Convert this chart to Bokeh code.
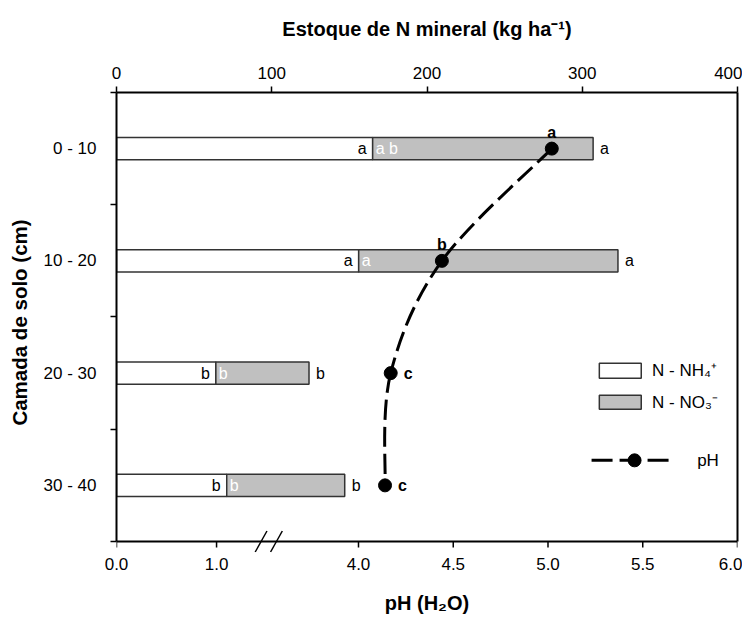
from bokeh.plotting import figure
from bokeh.models import (Range1d, LinearAxis, FixedTicker, CustomJSTickFormatter,
                          ColumnDataSource, Span)
from bokeh.embed import file_html
from bokeh.resources import INLINE
from bokeh.core.properties import value

# ---------------- data ----------------
layers = ["0 - 10", "10 - 20", "20 - 30", "30 - 40"]
nh4 = [165, 156, 64, 71]          # N-NH4+ (kg/ha)
no3 = [142, 167, 60, 76]          # N-NO3- (kg/ha)
ph = [5.02, 4.44, 4.17, 4.14]     # pH (H2O)
nh4_letters = ["a", "a", "b", "b"]
no3_letters = ["a b", "a", "b", "b"]
total_letters = ["a", "a", "b", "b"]
ph_letters = ["a", "b", "c", "c"]
kg_ticks = [0, 100, 200, 300, 400]
ph_tick_values = [0.0, 1.0, 4.0, 4.5, 5.0, 5.5, 6.0]
ph_tick_labels = ["0.0", "1.0", "4.0", "4.5", "5.0", "5.5", "6.0"]

# ---------------- layout constants ----------------
FONT = "Liberation Sans"
PH_START = 2.723          # broken axis: left end of the pH scale
PH_LOW_SCALE = 0.528      # compressed 0-1 segment before the break
Y_BOTTOM = 4.5            # where the (visual) bottom axis sits
Y_PAD = 0.098             # extra frame space below it so the break marks show
PX_Y = 112.25             # pixels per category unit


def ph_pos(v):
    return v if v >= 4 else PH_START + v * PH_LOW_SCALE


pos = list(range(1, len(layers) + 1))
total = [a + b for a, b in zip(nh4, no3)]
src = ColumnDataSource(dict(y=pos, nh4=nh4, total=total,
                            nh4_l=nh4_letters, no3_l=no3_letters, tot_l=total_letters))

p = figure(width=742, height=618,
           x_range=Range1d(0, 400), y_range=Range1d(Y_BOTTOM + Y_PAD, 0.5),
           x_axis_location="above", output_backend="svg", toolbar_location=None,
           min_border_left=116, min_border_top=92, min_border_right=5, min_border_bottom=66,
           background_fill_color="white", border_fill_color="white")
p.xgrid.visible = False
p.ygrid.visible = False
p.outline_line_color = None

p.extra_x_ranges = {"ph": Range1d(PH_START, 6.0)}

# top axis (kg/ha)
top = p.xaxis[0]
top.ticker = FixedTicker(ticks=kg_ticks, minor_ticks=[])
top.axis_label = "Estoque de N mineral (kg ha\u207b\u00b9)"

# bottom pH axis (labels only; its line and ticks are drawn at y = 4.5)
ph_ticks = [ph_pos(v) for v in ph_tick_values]
bottom = LinearAxis(x_range_name="ph",
                    ticker=FixedTicker(ticks=ph_ticks, minor_ticks=[]),
                    formatter=CustomJSTickFormatter(
                        args=dict(pos=ph_ticks, labels=ph_tick_labels),
                        code="""
let b = 0;
for (let j = 0; j < pos.length; j++) {
  if (Math.abs(pos[j] - tick) < Math.abs(pos[b] - tick)) b = j;
}
return labels[b];"""),
                    axis_label="pH (H\u2082O)")
p.add_layout(bottom, "below")

# left axis
left = p.yaxis[0]
left.ticker = FixedTicker(ticks=pos, minor_ticks=[v + 0.5 for v in [0] + pos])
left.formatter = CustomJSTickFormatter(args=dict(labels=layers),
                                       code="return labels[Math.round(tick) - 1];")
left.axis_label = "Camada de solo (cm)"
left.bounds = (0.5, Y_BOTTOM)

# right border (line only)
right = LinearAxis(ticker=FixedTicker(ticks=[], minor_ticks=[]),
                   bounds=(0.5, Y_BOTTOM), major_tick_in=0, major_tick_out=0,
                   major_label_standoff=0,
                   axis_line_color="black", axis_line_width=2)
p.add_layout(right, "right")

for ax in (top, bottom, left):
    ax.axis_line_color = "black"
    ax.axis_line_width = 2
    ax.major_tick_line_color = "black"
    ax.major_tick_line_width = 1.5
    ax.minor_tick_line_color = "black"
    ax.minor_tick_line_width = 1.5
    ax.major_tick_in = 0
    ax.minor_tick_in = 0
    ax.major_label_text_font = FONT
    ax.major_label_text_font_size = "17px"
    ax.major_label_text_color = "black"
    ax.axis_label_text_font = FONT
    ax.axis_label_text_font_size = "20px"
    ax.axis_label_text_font_style = "bold"
    ax.axis_label_text_color = "black"

top.major_tick_out = 6
top.major_label_standoff = 8
top.axis_label_standoff = 24
bottom.axis_line_color = None
bottom.major_tick_out = 0
bottom.major_label_standoff = 5
bottom.axis_label_standoff = 19
left.major_tick_out = 0
left.minor_tick_out = 6
left.major_label_standoff = 14
left.axis_label_standoff = 10
left.axis_label_text_font_size = "20.5px"

# visual bottom axis line, its ticks and the break marks
p.add_layout(Span(location=Y_BOTTOM, dimension="width", line_color="black", line_width=2))
p.segment(x0=ph_ticks, x1=ph_ticks, y0=[Y_BOTTOM] * len(ph_ticks),
          y1=[Y_BOTTOM + 6 / PX_Y] * len(ph_ticks), x_range_name="ph",
          line_color="black", line_width=1.5)
brk = [3.486, 3.567]
p.segment(x0=[b - 0.031 for b in brk], x1=[b + 0.031 for b in brk],
          y0=[Y_BOTTOM + 10.5 / PX_Y] * 2, y1=[Y_BOTTOM - 10.5 / PX_Y] * 2,
          x_range_name="ph", line_color="black", line_width=1.5)

# bars
BAR_H = 0.2
p.hbar(y="y", left=0, right="nh4", height=BAR_H, source=src,
       fill_color="white", line_color="#333333", line_width=1.5)
p.hbar(y="y", left="nh4", right="total", height=BAR_H, source=src,
       fill_color="#c0c0c0", line_color="#333333", line_width=1.5)

# bar letters
p.text(x="nh4", y="y", text="nh4_l", source=src, x_offset=-6,
       text_align="right", text_baseline="middle", text_color="black",
       text_font=value(FONT), text_font_size="16px")
p.text(x="nh4", y="y", text="no3_l", source=src, x_offset=3,
       text_align="left", text_baseline="middle", text_color="white",
       text_font=value(FONT), text_font_size="16px")
p.text(x="total", y="y", text="tot_l", source=src, x_offset=7,
       text_align="left", text_baseline="middle", text_color="black",
       text_font=value(FONT), text_font_size="16px")

# pH curve (Catmull-Rom through the measured points, drawn as beziers)
px = [ph[0]] + ph + [ph[-1]]
py = [pos[0]] + pos + [pos[-1]]
bz = dict(x0=[], y0=[], x1=[], y1=[], cx0=[], cy0=[], cx1=[], cy1=[])
for i in range(1, len(px) - 2):
    bz["x0"].append(px[i]); bz["y0"].append(py[i])
    bz["x1"].append(px[i + 1]); bz["y1"].append(py[i + 1])
    bz["cx0"].append(px[i] + (px[i + 1] - px[i - 1]) / 6)
    bz["cy0"].append(py[i] + (py[i + 1] - py[i - 1]) / 6)
    bz["cx1"].append(px[i + 1] - (px[i + 2] - px[i]) / 6)
    bz["cy1"].append(py[i + 1] - (py[i + 2] - py[i]) / 6)
p.bezier(x0="x0", y0="y0", x1="x1", y1="y1", cx0="cx0", cy0="cy0", cx1="cx1", cy1="cy1",
         source=ColumnDataSource(bz), x_range_name="ph",
         line_color="black", line_width=3, line_dash="20 7")
p.scatter(x=ph, y=pos, x_range_name="ph", size=13, marker="circle",
          fill_color="black", line_color="black")

# pH letters
p.text(x=ph[:2], y=pos[:2], text=ph_letters[:2], x_range_name="ph",
       y_offset=-16, text_align="center", text_baseline="alphabetic",
       text_font=value(FONT), text_font_size="16px", text_font_style="bold",
       text_color="black")
p.text(x=ph[2:], y=pos[2:], text=ph_letters[2:], x_range_name="ph",
       x_offset=13, text_align="left", text_baseline="middle",
       text_font=value(FONT), text_font_size="16px", text_font_style="bold",
       text_color="black")

# legend (manual)
p.quad(left=[311], right=[338], bottom=[3.045], top=[2.911],
       fill_color="white", line_color="#333333", line_width=1.5)
p.quad(left=[311], right=[338], bottom=[3.321], top=[3.196],
       fill_color="#c0c0c0", line_color="#333333", line_width=1.5)
p.text(x=[345, 345], y=[2.978, 3.259], text=["N - NH\u2084\u207a", "N - NO\u2083\u207b"],
       text_align="left", text_baseline="middle", text_font=value(FONT),
       text_font_size="17px", text_color="black")
p.line(x=[306, 355.6], y=[3.777, 3.777], line_color="black", line_width=3, line_dash="21 7")
p.scatter(x=[333.7], y=[3.777], size=13, marker="circle", fill_color="black", line_color="black")
p.text(x=[374], y=[3.777], text=["pH"], text_align="left", text_baseline="middle",
       text_font=value(FONT), text_font_size="17px", text_color="black")

open("out.html", "w").write(file_html(p, INLINE))
